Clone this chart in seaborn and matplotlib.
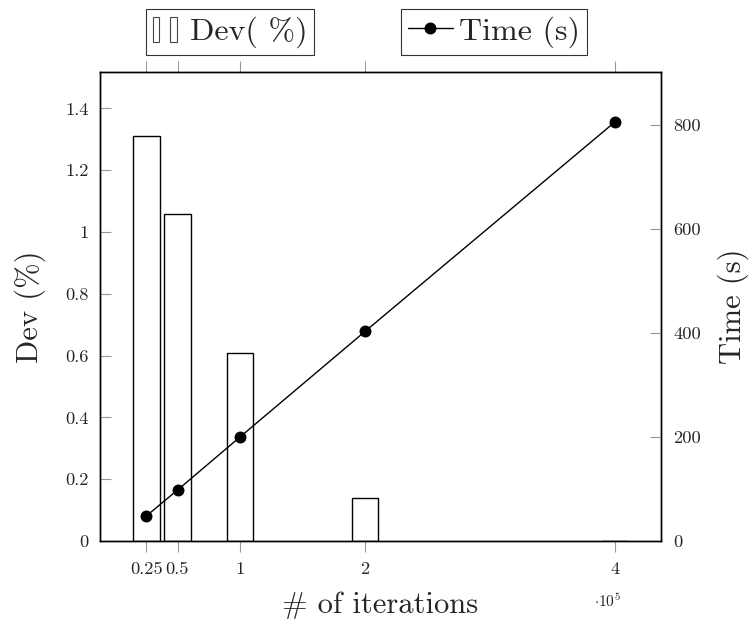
import matplotlib
matplotlib.use("Agg")
import matplotlib.pyplot as plt
import seaborn as sns
from matplotlib.legend_handler import HandlerBase
from matplotlib.lines import Line2D
from matplotlib.patches import Rectangle
from matplotlib.ticker import FixedLocator, FuncFormatter

# data
iterations = [25000, 50000, 100000, 200000, 400000]
dev_pct = [1.31, 1.06, 0.61, 0.14, 0.0]
time_s = [48, 98, 200, 403, 806]

dev_ticks = [0, 0.2, 0.4, 0.6, 0.8, 1.0, 1.2, 1.4]
time_ticks = [0, 200, 400, 600, 800]


class TwoBarsHandler(HandlerBase):
    # pgfplots style ybar legend image: two small empty bars
    def create_artists(self, legend, orig_handle, xdescent, ydescent,
                       width, height, fontsize, trans):
        bw = width * 0.2
        arts = []
        for x0 in (0.0, 0.55):
            r = Rectangle((x0 * width - xdescent, -ydescent - height * 0.1),
                          bw, height * 1.1, facecolor="white",
                          edgecolor="#444444", lw=0.8, transform=trans)
            arts.append(r)
        return arts


sns.set_style("ticks")
plt.rcParams["font.family"] = ["cmr10", "DejaVu Serif"]
plt.rcParams["mathtext.fontset"] = "cm"
plt.rcParams["axes.formatter.use_mathtext"] = True
plt.rcParams["axes.unicode_minus"] = False

fig = plt.figure(figsize=(7.53, 6.27), dpi=100)
ax = fig.add_axes([100 / 753, 1 - 541 / 627, 561 / 753, 469 / 627])

sns.barplot(x=iterations, y=dev_pct, native_scale=True, width=0.86,
            color="white", edgecolor="black", linewidth=1.0, ax=ax)

ax2 = ax.twinx()
sns.lineplot(x=iterations, y=time_s, ax=ax2, color="black", lw=1.0,
             marker="o", markersize=8.6, markeredgewidth=0)

ax.set_xlim(-12000, 436800)
ax.set_ylim(0, 1.518)
ax2.set_ylim(0, 902)

ax.xaxis.set_major_locator(FixedLocator(iterations))
ax.xaxis.set_major_formatter(FuncFormatter(lambda v, p: f"{v / 1e5:g}"))
ax.yaxis.set_major_locator(FixedLocator(dev_ticks))
ax.yaxis.set_major_formatter(FuncFormatter(lambda v, p: f"{v:g}"))
ax2.yaxis.set_major_locator(FixedLocator(time_ticks))
ax2.yaxis.set_major_formatter(FuncFormatter(lambda v, p: f"{v:g}"))

ax.tick_params(axis="x", direction="out", length=8, width=0.8, color="#999999",
               top=True, labelsize=13.3, pad=7)
ax.tick_params(axis="y", direction="in", length=8, width=0.8, color="#999999",
               labelsize=13.3, pad=8)
ax2.tick_params(axis="y", direction="in", length=8, width=0.8, color="#999999",
                labelsize=13.3, pad=9)
for a in (ax, ax2):
    for s in a.spines.values():
        s.set_visible(True)
        s.set_color("black")
        s.set_linewidth(1.0)

ax.set_xlabel("# of iterations", fontsize=22, labelpad=10)
ax.set_ylabel("Dev (%)", fontsize=22, labelpad=14)
ax2.set_ylabel("Time (s)", fontsize=22, labelpad=12)
ax.text(0.904, -0.128, r"$\cdot 10^5$", transform=ax.transAxes,
        fontsize=11, ha="center", va="center")

bar_handle = Rectangle((0, 0), 1, 1)
leg1 = fig.legend([bar_handle], ["Dev( %)"], loc="center",
                  bbox_to_anchor=(230 / 753, 1 - 32 / 627),
                  handler_map={Rectangle: TwoBarsHandler()},
                  fontsize=23, frameon=True, fancybox=False, edgecolor="black",
                  handlelength=1.0, handletextpad=0.15, borderpad=0.22,
                  borderaxespad=0)
leg1.get_frame().set_linewidth(0.8)

line_handle = Line2D([], [], color="black", lw=1.0, marker="o", markersize=8.6,
                     markeredgewidth=0)
leg2 = fig.legend([line_handle], ["Time (s)"], loc="center",
                  bbox_to_anchor=(494 / 753, 1 - 32 / 627),
                  fontsize=23, frameon=True, fancybox=False, edgecolor="black",
                  handlelength=1.4, handletextpad=0.2, borderpad=0.22,
                  borderaxespad=0)
leg2.get_frame().set_linewidth(0.8)

fig.savefig("out.png", dpi=100)
